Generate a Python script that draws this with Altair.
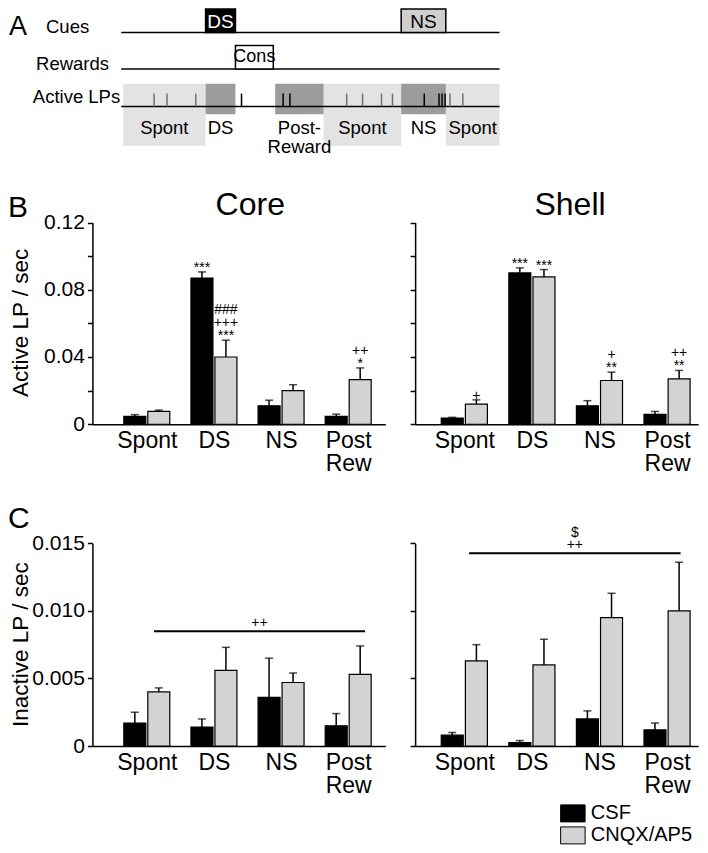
import json
import altair as alt
import pandas as pd

SANS = "Liberation Sans"
W, H = 692, 837

# ---------------- Panel A: trial schematic (time in arbitrary units 0-100) ----------------
cue_names = ["DS", "NS"]
cue_on = [22.3, 74.0]
cue_off = [30.2, 85.8]
reward_names = ["Cons"]
reward_on = [30.2]
reward_off = [40.2]
lp_times = [8.7, 12.1, 19.7, 31.8, 42.8, 44.6, 59.6, 63.8, 68.8, 71.7,
            80.1, 84.0, 84.8, 85.6, 86.9, 90.3]
epoch_labels = [["Spont"], ["DS"], ["Post-", "Reward"], ["Spont"], ["NS"], ["Spont"]]
epoch_on = [0.5, 22.3, 40.7, 53.5, 74.0, 85.8]
epoch_off = [22.3, 30.2, 53.5, 74.0, 85.8, 100.0]
epoch_kind = ["spont", "cue", "cue", "spont", "cue", "spont"]
row_labels = ["Cues", "Rewards", "Active LPs"]

# ---------------- Panels B / C data ----------------
periods = ["Spont", "DS", "NS", "Post Rew"]
period_axis_labels = ["Spont", "DS", "NS", ["Post", "Rew"]]
treatments = ["CSF", "CNQX/AP5"]

core_active_csf = [0.0047, 0.0870, 0.0110, 0.0047]
core_active_csf_sem = [0.0010, 0.0036, 0.0033, 0.0013]
core_active_cnqx = [0.0076, 0.0400, 0.0200, 0.0265]
core_active_cnqx_sem = [0.0008, 0.0100, 0.0035, 0.0070]

shell_active_csf = [0.0037, 0.0900, 0.0110, 0.0059]
shell_active_csf_sem = [0.0004, 0.0030, 0.0030, 0.0017]
shell_active_cnqx = [0.0120, 0.0876, 0.0260, 0.0270]
shell_active_cnqx_sem = [0.0025, 0.0044, 0.0050, 0.0050]

core_inactive_csf = [0.0017, 0.0014, 0.0036, 0.0015]
core_inactive_csf_sem = [0.0008, 0.0006, 0.0029, 0.0009]
core_inactive_cnqx = [0.0040, 0.0056, 0.0047, 0.0053]
core_inactive_cnqx_sem = [0.0003, 0.0017, 0.0007, 0.0021]

shell_inactive_csf = [0.0008, 0.00025, 0.0020, 0.0012]
shell_inactive_csf_sem = [0.0002, 0.00015, 0.0006, 0.0005]
shell_inactive_cnqx = [0.0063, 0.0060, 0.0095, 0.0100]
shell_inactive_cnqx_sem = [0.0012, 0.0019, 0.0018, 0.0036]

# significance symbols: (period, treatment) -> stacked lines (top first)
core_active_sig = {("DS", "CSF"): ["***"],
                   ("DS", "CNQX/AP5"): ["###", "+++", "***"],
                   ("Post Rew", "CNQX/AP5"): ["++", "*"]}
shell_active_sig = {("Spont", "CNQX/AP5"): ["+"],
                    ("DS", "CSF"): ["***"],
                    ("DS", "CNQX/AP5"): ["***"],
                    ("NS", "CNQX/AP5"): ["+", "**"],
                    ("Post Rew", "CNQX/AP5"): ["++", "**"]}
core_inactive_bracket = {"from": 0.107, "to": 3.25, "level": 0.0085, "lines": ["++"]}
shell_inactive_bracket = {"from": 0.07, "to": 3.2, "level": 0.01427, "lines": ["$", "++"]}


# ---------------- layout helpers (reference pixel -> plot pixel) ----------------
def rx(v):
    return round((v - 3) * 0.993, 2)


def ry(v):
    return round(v * 0.984, 2)


def label(txt, px, py, size, align="center", baseline="middle", angle=0, color="black"):
    return alt.Chart(pd.DataFrame({"label": [txt]})).mark_text(
        font=SANS, fontSize=size, align=align, baseline=baseline, angle=angle,
        color=color).encode(x=alt.value(px), y=alt.value(py), text="label:N")


# ======================================================================================
# Panel A
tscale = alt.Scale(domain=[0, 100], range=[rx(117), rx(498)], nice=False, zero=False)


def tx(field):
    return alt.X(f"{field}:Q", scale=tscale, axis=None)


ep = pd.DataFrame({"t0": epoch_on, "t1": epoch_off, "kind": epoch_kind,
                   "label": epoch_labels})
ep["mid"] = (ep["t0"] + ep["t1"]) / 2

spont_rect = alt.Chart(ep).transform_filter("datum.kind == 'spont'").mark_rect(
    fill="#e3e3e3").encode(x=tx("t0"), x2="t1", y=alt.value(ry(77)), y2=alt.value(ry(140)))
cue_rect = alt.Chart(ep).transform_filter("datum.kind == 'cue'").mark_rect(
    fill="#9c9c9c").encode(x=tx("t0"), x2="t1", y=alt.value(ry(77)), y2=alt.value(ry(108)))

line_df = pd.DataFrame({"t0": [0], "t1": [100]})
lines = [alt.Chart(line_df).mark_rule(color="black", strokeWidth=1.5).encode(
    x=tx("t0"), x2="t1", y=alt.value(ry(yv))) for yv in (25, 62, 100)]

cues = pd.DataFrame({"name": cue_names, "t0": cue_on, "t1": cue_off})
cues["mid"] = (cues["t0"] + cues["t1"]) / 2
cue_box = alt.Chart(cues).mark_rect(stroke="black", strokeWidth=1.5).encode(
    x=tx("t0"), x2="t1", y=alt.value(ry(1)), y2=alt.value(ry(25)),
    fill=alt.condition("datum.name == 'DS'", alt.value("black"), alt.value("#cfcfcf")))
cue_txt = alt.Chart(cues).mark_text(font=SANS, fontSize=19, baseline="middle").encode(
    x=tx("mid"), y=alt.value(ry(14)), text="name:N",
    color=alt.condition("datum.name == 'DS'", alt.value("white"), alt.value("black")))

rew = pd.DataFrame({"name": reward_names, "t0": reward_on, "t1": reward_off})
rew["mid"] = (rew["t0"] + rew["t1"]) / 2
rew_box = alt.Chart(rew).mark_rect(stroke="black", strokeWidth=1.5, fill="white").encode(
    x=tx("t0"), x2="t1", y=alt.value(ry(38)), y2=alt.value(ry(62)))
rew_txt = alt.Chart(rew).mark_text(font=SANS, fontSize=18, baseline="middle").encode(
    x=tx("mid"), y=alt.value(ry(50)), text="name:N")


def epoch_kind_at(t):
    for a, b, k in zip(epoch_on, epoch_off, epoch_kind):
        if a <= t < b:
            return k
    return "none"


lp = pd.DataFrame({"t": lp_times})
lp["kind"] = [epoch_kind_at(t) for t in lp_times]
lp_ticks = alt.Chart(lp).mark_rule(strokeWidth=1.5).encode(
    x=tx("t"), y=alt.value(ry(87)), y2=alt.value(ry(100)),
    color=alt.condition("datum.kind == 'spont'", alt.value("#707070"), alt.value("black")))

ep_txt = alt.Chart(ep).mark_text(font=SANS, fontSize=18.5, baseline="top",
                                 lineHeight=19).encode(
    x=tx("mid"), y=alt.value(ry(113)), text="label")

row_pos = [(63, 19), (68, 57), (72, 90)]
row_txt = [label(lab, rx(px), ry(py), 18.5) for lab, (px, py) in zip(row_labels, row_pos)]

panelA = alt.layer(spont_rect, cue_rect, *lines, cue_box, cue_txt, rew_box, rew_txt,
                   lp_ticks, ep_txt, *row_txt,
                   label("A", rx(4), ry(27), 27, align="left", baseline="alphabetic"))

# ======================================================================================
# Panels B and C
XLAB = json.dumps(period_axis_labels)
fill_scale = alt.Scale(domain=treatments, range=["black", "#d3d3d3"])
LEG = alt.Legend(orient="none", legendX=rx(558) + 3.75, legendY=ry(818.5) - 10, title=None,
                 symbolType="M-1.44,-1H1.44V1H-1.44Z", symbolSize=289,
                 symbolStrokeColor="black", symbolStrokeWidth=1,
                 labelFont=SANS, labelFontSize=20, labelColor="black",
                 labelOffset=8, rowPadding=0, padding=0)


def bar_df(csf, csf_sem, cnqx, cnqx_sem, off):
    rows = []
    for i, p in enumerate(periods):
        rows.append(dict(period=p, treat="CSF", mean=csf[i], sem=csf_sem[i], pos=i - off))
        rows.append(dict(period=p, treat="CNQX/AP5", mean=cnqx[i], sem=cnqx_sem[i],
                         pos=i + off))
    df = pd.DataFrame(rows)
    df["top"] = df["mean"] + df["sem"]
    return df


def stack_rows(xs, ys, stacks):
    """Flatten stacked annotation lines into rows with a level (0 = lowest line)."""
    out = []
    for x, y, st in zip(xs, ys, stacks):
        n = len(st)
        for j, s in enumerate(st):
            out.append(dict(x=x, y=y, txt=s, level=n - 1 - j))
    return pd.DataFrame(out)


def panel(df, sig, bracket, xdom, xpx, ypx, ydom, yvals, ylabexpr):
    xs = alt.Scale(domain=xdom, range=[rx(xpx[0]), rx(xpx[1])], nice=False, zero=False)
    xaxis = alt.Axis(orient="bottom", offset=-(H - ry(ypx[0])), values=[0, 1, 2, 3],
                     labelExpr=f"{XLAB}[round(datum.value)]", ticks=False,
                     labelFlush=False, labelOverlap=False, labelFontSize=23,
                     labelPadding=5, labelLineHeight=23, title=None, grid=False)
    ys = alt.Scale(domain=ydom, range=[ry(ypx[0]), ry(ypx[1])], nice=False, zero=True)
    if ylabexpr:
        yaxis = alt.Axis(orient="left", offset=-rx(xpx[0]), values=yvals,
                         labelExpr=ylabexpr, labelFontSize=21, tickSize=5, labelPadding=3,
                         title=None, grid=False)
    else:
        yaxis = alt.Axis(orient="left", offset=-rx(xpx[0]), values=yvals, labels=False,
                         tickSize=5, title=None, grid=False)

    def X(f):
        return alt.X(f"{f}:Q", scale=xs, axis=xaxis)

    def Y(f):
        return alt.Y(f"{f}:Q", scale=ys, axis=yaxis)

    bars = alt.Chart(df).mark_bar(orient="vertical", width=22, stroke="black",
                                  strokeWidth=1.2).encode(
        x=X("pos"), y=Y("mean"),
        fill=alt.Fill("treat:N", scale=fill_scale, legend=LEG, sort=treatments))
    err = alt.Chart(df).mark_rule(color="black", strokeWidth=1.5).encode(
        x=X("pos"), y=Y("mean"), y2="top")
    cap = alt.Chart(df).mark_tick(orient="horizontal", color="black", size=8,
                                  thickness=1.5).encode(x=X("pos"), y=Y("top"))
    layers = [bars, err, cap]
    if sig:
        keys = [k for k in zip(df["period"], df["treat"]) if k in sig]
        sub = df.set_index(["period", "treat"]).loc[keys]
        st = stack_rows(sub["pos"], sub["top"], [sig[k] for k in keys])
        for lev in sorted(st["level"].unique()):
            layers.append(alt.Chart(st[st["level"] == lev]).mark_text(
                font=SANS, fontSize=14, baseline="bottom", dy=3 - 13 * lev,
                color="black").encode(x=X("x"), y=Y("y"), text="txt:N"))
    if bracket:
        b = pd.DataFrame({"x0": [bracket["from"]], "x1": [bracket["to"]],
                          "lev": [bracket["level"]]})
        layers.append(alt.Chart(b).mark_rule(color="black", strokeWidth=2).encode(
            x=X("x0"), x2="x1", y=Y("lev")))
        mid = (bracket["from"] + bracket["to"]) / 2
        st = stack_rows([mid], [bracket["level"]], [bracket["lines"]])
        for lev in sorted(st["level"].unique()):
            layers.append(alt.Chart(st[st["level"] == lev]).mark_text(
                font=SANS, fontSize=14, baseline="bottom", dy=-1 - 12 * lev,
                color="black").encode(x=X("x"), y=Y("y"), text="txt:N"))
    return alt.layer(*layers)


OFF = 12.5 / 70
CORE_X = [-0.736, 3.479]
SHELL_X = [-0.654, 3.386]
CORE_PX = (88, 383)
SHELL_PX = (413, 698)
B_PY = (423, 218)
C_PY = (750, 544)

B_YVALS = [0, 0.02, 0.04, 0.06, 0.08, 0.10, 0.12]
B_LAB = ("datum.value == 0 ? '0' : (abs(datum.value * 25 - round(datum.value * 25)) < 0.01"
         " ? format(datum.value, '.2f') : '')")
C_YVALS = [0, 0.005, 0.010, 0.015]
C_LAB = "datum.value == 0 ? '0' : format(datum.value, '.3f')"

B_core = panel(bar_df(core_active_csf, core_active_csf_sem, core_active_cnqx,
                      core_active_cnqx_sem, OFF),
               core_active_sig, None, CORE_X, CORE_PX, B_PY, [0, 0.12], B_YVALS, B_LAB)
B_shell = panel(bar_df(shell_active_csf, shell_active_csf_sem, shell_active_cnqx,
                       shell_active_cnqx_sem, OFF),
                shell_active_sig, None, SHELL_X, SHELL_PX, B_PY, [0, 0.12], B_YVALS, None)
C_core = panel(bar_df(core_inactive_csf, core_inactive_csf_sem, core_inactive_cnqx,
                      core_inactive_cnqx_sem, OFF),
               None, core_inactive_bracket, CORE_X, CORE_PX, C_PY, [0, 0.015], C_YVALS, C_LAB)
C_shell = panel(bar_df(shell_inactive_csf, shell_inactive_csf_sem, shell_inactive_cnqx,
                       shell_inactive_cnqx_sem, OFF),
                None, shell_inactive_bracket, SHELL_X, SHELL_PX, C_PY, [0, 0.015], C_YVALS,
                None)

texts = [
    label("B", rx(3), ry(212), 30, align="left", baseline="alphabetic"),
    label("C", rx(3), ry(528), 30, align="left", baseline="alphabetic"),
    label("Core", rx(247), ry(210), 32, baseline="alphabetic"),
    label("Shell", rx(569), ry(210), 32, baseline="alphabetic"),
    label("Active LP / sec", rx(23), ry(320), 22.5, baseline="alphabetic", angle=270),
    label("Inactive LP / sec", rx(23), ry(647), 22.5, baseline="alphabetic", angle=270),
]

chart = alt.layer(panelA, B_core, B_shell, C_core, C_shell, *texts).resolve_scale(
    x="independent", y="independent").resolve_axis(
    x="independent", y="independent").properties(
    width=W, height=H, padding=0).configure_view(stroke=None).configure_axis(
    domainColor="black", tickColor="black", labelColor="black", domainWidth=1.5,
    tickWidth=1.5, labelFont=SANS).configure_text(font=SANS)

chart.save("out.html", embed_options={"renderer": "svg", "actions": False})
